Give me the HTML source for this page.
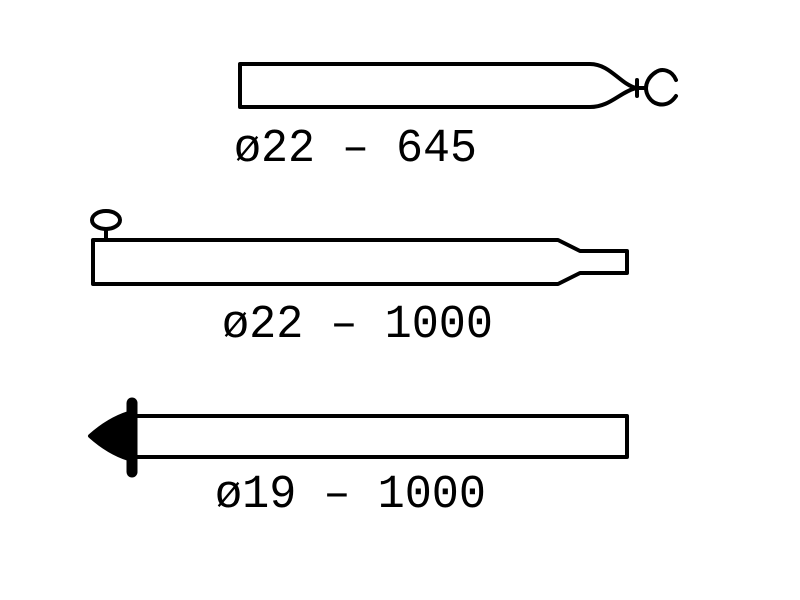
<!DOCTYPE html>
<html><head><meta charset="utf-8"><style>html,body{margin:0;padding:0;background:#fff;}svg{display:block}</style></head>
<body>
<svg width="800" height="600" viewBox="0 0 800 600" xmlns="http://www.w3.org/2000/svg">
<g fill="none" stroke="#000" stroke-width="4" stroke-linejoin="round" stroke-linecap="round">
  <path d="M590 64 L240 64 L240 107 L590 107 C610 107 620 92 636 88 C620 84 610 64 590 64 Z"/>
  <line x1="636" y1="88" x2="646" y2="88"/>
  <line x1="637" y1="80" x2="637" y2="96"/>
  <path d="M676 80 C672 70 662 68 656 72 C648 77 646 84 646 88 C646 94 650 102 658 104 C666 106 672 102 676 96"/>
  <path d="M93 240 L558 240 L580 251 L627 251 L627 273 L580 273 L558 284 L93 284 Z"/>
  <line x1="106" y1="231" x2="106" y2="240"/>
  <ellipse cx="106" cy="220" rx="14" ry="9"/>
  <path d="M134 416 L627 416 L627 457 L134 457"/>
</g>
<path d="M90 436 Q110 418 132 412 L132 460 Q110 454 90 436 Z" fill="#000" stroke="#000" stroke-width="4" stroke-linejoin="round"/>
<line x1="132" y1="403" x2="132" y2="472" stroke="#000" stroke-width="11" stroke-linecap="round"/>
<g font-family="Liberation Mono, monospace" font-size="47" fill="#000">
  <text x="234" y="161" textLength="243" lengthAdjust="spacingAndGlyphs" xml:space="preserve">ø22 – 645</text>
  <text x="222" y="337" textLength="271" lengthAdjust="spacingAndGlyphs" xml:space="preserve">ø22 – 1000</text>
  <text x="215" y="507" textLength="271" lengthAdjust="spacingAndGlyphs" xml:space="preserve">ø19 – 1000</text>
</g>
</svg>
</body></html>
